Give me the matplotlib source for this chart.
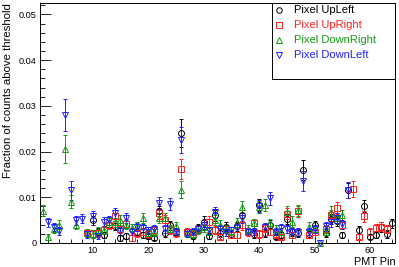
import matplotlib
matplotlib.use("Agg")
import matplotlib.pyplot as plt
from matplotlib.patches import Rectangle
from matplotlib.ticker import MultipleLocator

plt.rcParams['font.family'] = ['Liberation Sans', 'DejaVu Sans']

labels = ["Pixel UpLeft", "Pixel UpRight", "Pixel DownRight", "Pixel DownLeft"]
colors = ["#000000", "#ff2020", "#119911", "#2020ff"]
markers = ["o", "s", "^", "v"]

pins_ul = [10, 11, 12, 13, 14, 15, 16, 18, 19, 20, 21, 22, 23, 24, 25, 26, 27, 28, 29, 30,
           31, 32, 33, 34, 35, 36, 37, 38, 39, 40, 41, 42, 43, 44, 45, 46, 47, 48, 49, 50,
           52, 53, 54, 55, 56, 58, 59, 60, 61, 62, 63, 64]
vals_ul = [0.0050, 0.0025, 0.0017, 0.0040, 0.0038, 0.0011, 0.0015,
           0.0025, 0.0017, 0.0015, 0.0012, 0.0070, 0.0021, 0.0039, 0.0025, 0.0241, 0.0025, 0.0016, 0.0032, 0.0047,
           0.0015, 0.0061, 0.0022, 0.0036, 0.0020, 0.0037, 0.0061, 0.0025, 0.0020, 0.0083, 0.0022, 0.0040, 0.0014,
           0.0018, 0.0052, 0.0024, 0.0022, 0.0160, 0.0020, 0.0039,
           0.0022, 0.0052, 0.0048, 0.0017, 0.0115,
           0.0028, 0.0080, 0.0014, 0.0018, 0.0035, 0.0020, 0.0043]
errs_ul = [0.0010, 0.0008, 0.0007, 0.0010, 0.0010, 0.0006, 0.0007,
           0.0008, 0.0007, 0.0007, 0.0006, 0.0012, 0.0008, 0.0010, 0.0008, 0.0030, 0.0008, 0.0007, 0.0009, 0.0011,
           0.0007, 0.0012, 0.0008, 0.0010, 0.0008, 0.0010, 0.0012, 0.0008, 0.0008, 0.0013, 0.0008, 0.0010, 0.0006,
           0.0007, 0.0011, 0.0008, 0.0008, 0.0022, 0.0008, 0.0010,
           0.0008, 0.0011, 0.0010, 0.0007, 0.0017,
           0.0009, 0.0013, 0.0006, 0.0007, 0.0010, 0.0008, 0.0010]

pins_ur = [9, 10, 11, 12, 13, 14, 15, 16, 17, 18, 19, 20, 21, 22, 23, 24, 25, 26, 27, 28,
           29, 30, 31, 32, 33, 34, 35, 36, 37, 38, 39, 40, 41, 42, 43, 44, 45, 46, 47,
           49, 50, 52, 53, 54, 55, 57, 58, 59, 60, 61, 62, 63]
vals_ur = [0.0022, 0.0020, 0.0022, 0.0028, 0.0040, 0.0060, 0.0030, 0.0042, 0.0011, 0.0021, 0.0025, 0.0020,
           0.0028, 0.0065, 0.0050, 0.0028, 0.0021, 0.0162, 0.0025, 0.0020, 0.0030, 0.0035, 0.0047, 0.0028,
           0.0014, 0.0030, 0.0017, 0.0017, 0.0039, 0.0024, 0.0043, 0.0020, 0.0032, 0.0025, 0.0020, 0.0014,
           0.0064, 0.0018, 0.0069,
           0.0018, 0.0025,
           0.0030, 0.0061, 0.0076, 0.0040,
           0.0118, 0.0014, 0.0058, 0.0025, 0.0032, 0.0036, 0.0030]
errs_ur = [0.0008, 0.0008, 0.0008, 0.0009, 0.0010, 0.0012, 0.0009, 0.0010, 0.0006, 0.0008, 0.0008, 0.0008,
           0.0009, 0.0012, 0.0011, 0.0009, 0.0008, 0.0022, 0.0008, 0.0008, 0.0009, 0.0010, 0.0011, 0.0009,
           0.0006, 0.0009, 0.0007, 0.0007, 0.0010, 0.0008, 0.0010, 0.0008, 0.0009, 0.0008, 0.0008, 0.0006,
           0.0012, 0.0007, 0.0012,
           0.0007, 0.0008,
           0.0009, 0.0012, 0.0013, 0.0010,
           0.0018, 0.0006, 0.0012, 0.0008, 0.0009, 0.0010, 0.0009]

pins_dr = [1, 2, 3, 4, 5, 6, 7,
           9, 10, 11, 12, 13, 14, 15, 16, 17, 18, 19, 20, 21, 22, 23, 24, 25, 26, 27, 28,
           29, 30, 31, 32, 33, 34, 35, 36, 37, 38, 39, 40, 41, 42, 43, 44, 45, 46, 47,
           49, 50, 51, 52, 53, 54, 55]
vals_dr = [0.0071, 0.0013, 0.0030, 0.0040, 0.0205, 0.0090, 0.0040,
           0.0022, 0.0020, 0.0026, 0.0028, 0.0045, 0.0045, 0.0051, 0.0040, 0.0032, 0.0037, 0.0054, 0.0022,
           0.0023, 0.0054, 0.0054, 0.0030, 0.0037, 0.0117, 0.0022, 0.0020, 0.0028, 0.0035, 0.0025, 0.0050,
           0.0040, 0.0030, 0.0027, 0.0045, 0.0079, 0.0030, 0.0043, 0.0078, 0.0083, 0.0043, 0.0030, 0.0025,
           0.0068, 0.0047, 0.0072,
           0.0036, 0.0030, 0.0000, 0.0025, 0.0068, 0.0055, 0.0061]
errs_dr = [0.0013, 0.0007, 0.0009, 0.0010, 0.0031, 0.0014, 0.0010,
           0.0008, 0.0008, 0.0008, 0.0009, 0.0010, 0.0010, 0.0011, 0.0010, 0.0009, 0.0010, 0.0011, 0.0008,
           0.0008, 0.0011, 0.0011, 0.0009, 0.0010, 0.0018, 0.0008, 0.0008, 0.0009, 0.0010, 0.0008, 0.0011,
           0.0010, 0.0009, 0.0009, 0.0010, 0.0013, 0.0009, 0.0010, 0.0013, 0.0013, 0.0010, 0.0009, 0.0008,
           0.0012, 0.0011, 0.0012,
           0.0010, 0.0009, 0.0000, 0.0008, 0.0012, 0.0011, 0.0012]

pins_dl = list(range(2, 57))
vals_dl = [0.0045, 0.0035, 0.0026, 0.0280, 0.0115, 0.0050, 0.0053, 0.0020, 0.0060, 0.0015,
           0.0047, 0.0050, 0.0065, 0.0026, 0.0055, 0.0025, 0.0035, 0.0033, 0.0028, 0.0030,
           0.0087, 0.0030, 0.0085, 0.0025, 0.0225, 0.0020, 0.0025, 0.0030, 0.0040, 0.0028,
           0.0067, 0.0030, 0.0023, 0.0028, 0.0032, 0.0054, 0.0025, 0.0025, 0.0080, 0.0035,
           0.0098, 0.0025, 0.0032, 0.0030, 0.0025, 0.0024, 0.0136, 0.0025, 0.0030, 0.0000,
           0.0037, 0.0045, 0.0054, 0.0041, 0.0116]
errs_dl = [0.0010, 0.0009, 0.0008, 0.0036, 0.0020, 0.0010, 0.0010, 0.0008, 0.0011, 0.0007,
           0.0010, 0.0010, 0.0012, 0.0008, 0.0011, 0.0008, 0.0009, 0.0009, 0.0008, 0.0009,
           0.0013, 0.0009, 0.0013, 0.0008, 0.0028, 0.0007, 0.0008, 0.0009, 0.0010, 0.0008,
           0.0012, 0.0009, 0.0008, 0.0008, 0.0009, 0.0011, 0.0008, 0.0008, 0.0013, 0.0009,
           0.0014, 0.0008, 0.0009, 0.0009, 0.0008, 0.0008, 0.0022, 0.0008, 0.0009, 0.0000,
           0.0010, 0.0010, 0.0011, 0.0010, 0.0017]

series = [(pins_ul, vals_ul, errs_ul), (pins_ur, vals_ur, errs_ur),
          (pins_dr, vals_dr, errs_dr), (pins_dl, vals_dl, errs_dl)]

fig = plt.figure(figsize=(3.99, 2.67), dpi=100)
ax = fig.add_axes([40 / 399, 1 - 243 / 267, 355 / 399, 240 / 267])

for (px, pv, pe), c, m in zip(series, colors, markers):
    ax.errorbar(px, pv, yerr=pe, fmt=m, color=c, ecolor=c, mfc='none', mec=c,
                ms=4.3, mew=0.7, elinewidth=0.7, capsize=1.3, capthick=0.7, clip_on=False)

ax.set_xlim(0.5, 64.5)
ax.set_ylim(0, 0.0525)
ax.xaxis.set_major_locator(MultipleLocator(10))
ax.xaxis.set_minor_locator(MultipleLocator(2))
ax.yaxis.set_major_locator(MultipleLocator(0.01))
ax.yaxis.set_minor_locator(MultipleLocator(0.002))
ax.tick_params(axis='x', which='major', direction='in', length=5.2, width=0.6, labelsize=6.6, pad=2.5)
ax.tick_params(axis='x', which='minor', direction='in', length=2.6, width=0.6)
ax.tick_params(axis='y', which='major', direction='in', length=7.6, width=0.6, labelsize=6.6, pad=2.5)
ax.tick_params(axis='y', which='minor', direction='in', length=3.8, width=0.6)
ax.yaxis.set_major_formatter(matplotlib.ticker.FuncFormatter(lambda v, p: "0" if v == 0 else f"{v:.2f}"))
for s in ax.spines.values():
    s.set_linewidth(0.7)

fig.text(8 / 399, 1 - 3 / 267, "Fraction of counts above threshold", rotation=90,
         ha='center', va='top', fontsize=8.2)
fig.text(396 / 399, 1 - 265 / 267, "PMT Pin", ha='right', va='baseline', fontsize=7.8)

# legend box
x0 = (272 - 40) / 355
ax.add_patch(Rectangle((x0, (243 - 79) / 240), 1 - x0, 1 - (243 - 79) / 240,
                       transform=ax.transAxes, facecolor='white', edgecolor='black',
                       linewidth=0.7, zorder=5, clip_on=False))
rows_px = [10, 25, 40, 55]
for lab, c, m, ypx in zip(labels, colors, markers, rows_px):
    ya = (243 - ypx) / 240
    ax.plot([(279 - 40) / 355], [ya], marker=m, color=c, mfc='none', mec=c, ms=4.0, mew=0.7,
            transform=ax.transAxes, zorder=6, clip_on=False)
    ax.text((294 - 40) / 355, ya, lab, color=c, fontsize=8, ha='left', va='center',
            transform=ax.transAxes, zorder=6)

fig.savefig("out.png", dpi=100)
